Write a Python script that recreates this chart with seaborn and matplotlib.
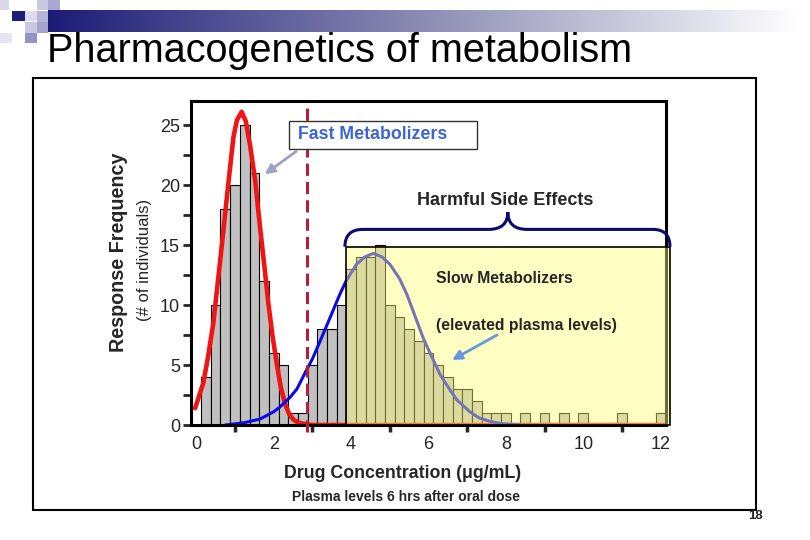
import numpy as np
import pandas as pd
import matplotlib
matplotlib.use("Agg")
import matplotlib.pyplot as plt
import seaborn as sns
from matplotlib.patches import Rectangle, PathPatch
from matplotlib.path import Path
from matplotlib.colors import LinearSegmentedColormap

# histogram: drug concentration bin centres (ug/mL) and number of individuals
bin_centers = [0.25, 0.5, 0.75, 1.0, 1.25, 1.5, 1.75, 2.0, 2.25, 2.5, 2.75, 3.0,
               3.25, 3.5, 3.75, 4.0, 4.25, 4.5, 4.75, 5.0, 5.25, 5.5, 5.75, 6.0,
               6.25, 6.5, 6.75, 7.0, 7.25, 7.5, 7.75, 8.0, 8.25, 8.5, 8.75, 9.0,
               9.25, 9.5, 9.75, 10.0, 10.25, 10.5, 10.75, 11.0, 11.25, 11.5, 11.75, 12.0]
counts = [4, 10, 18, 20, 25, 21, 12, 6, 5, 1, 1, 5,
          8, 8, 10, 13, 14, 14, 15, 10, 9, 8, 7, 6,
          5, 4, 3, 3, 2, 1, 1, 1, 0, 1, 0, 1,
          0, 1, 0, 1, 0, 0, 0, 1, 0, 0, 0, 1]

# fitted curve for the fast metabolizers (red)
fast_x = [-0.03, 0.18, 0.3, 0.44, 0.58, 0.7, 0.82, 0.96, 1.05, 1.17, 1.28, 1.39,
          1.52, 1.65, 1.76, 1.86, 1.97, 2.08, 2.18, 2.29, 2.4, 2.51, 2.63, 2.76,
          3.0, 4.0, 6.0, 8.0, 10.0, 12.1]
fast_y = [1.4, 3.5, 5.6, 8.5, 12.6, 16.2, 19.9, 24.0, 25.4, 26.1, 25.3, 23.3,
          20.4, 16.4, 13.2, 10.2, 7.4, 5.1, 3.2, 1.8, 0.9, 0.45, 0.2, 0.1,
          0.0, 0.0, 0.0, 0.0, 0.0, 0.0]

# fitted curve for the slow metabolizers (blue)
slow_x = [0.75, 1.25, 1.65, 2.0, 2.16, 2.42, 2.6, 2.85, 3.0, 3.28, 3.45, 3.71,
          3.87, 4.14, 4.35, 4.57, 4.8, 5.0, 5.25, 5.44, 5.66, 5.87, 6.04, 6.3,
          6.56, 6.73, 7.07, 7.3, 7.59, 7.9, 8.4]
slow_y = [0.0, 0.2, 0.5, 1.1, 1.5, 2.3, 3.0, 4.6, 5.5, 7.6, 8.9, 10.9,
          12.0, 13.4, 14.0, 14.3, 14.0, 13.4, 12.2, 10.9, 9.0, 7.2, 6.0, 4.2,
          2.9, 2.1, 1.1, 0.6, 0.3, 0.1, 0.0]

x_ticks = [0, 2, 4, 6, 8, 10, 12]
x_minor = [1, 3, 5, 7, 9, 11]
y_ticks = [0, 5, 10, 15, 20, 25]
y_minor = [2.5, 7.5, 12.5, 17.5, 22.5]

threshold = 2.86  # dashed cut-off between fast and slow

sns.set_theme(style="ticks")
plt.rcParams['font.family'] = ['Liberation Sans', 'DejaVu Sans']

W, H = 810, 540
fig = plt.figure(figsize=(8.1, 5.4), dpi=100)


def fp(px, py):
    # pixel (from top-left) -> figure fraction
    return px / W, 1 - py / H


# slide decoration: gradient band and little squares
band = fig.add_axes([48 / W, 1 - 32 / H, 752 / W, 22 / H])
cmap = LinearSegmentedColormap.from_list("band", ["#1c1c78", "#8c8cb4", "#ffffff"])
band.imshow(np.linspace(0, 1, 256)[None, :], aspect="auto", cmap=cmap)
band.axis("off")
squares = [(0, 0, 9, 10, "#d8d8ea"), (37, 0, 11, 10, "#c8c8e0"), (48, 0, 12, 10, "#a8a8d0"),
           (12, 11, 13, 10, "#1e1e7a"), (25, 11, 12, 10, "#dcdcee"), (37, 11, 11, 11, "#b4b4d8"),
           (25, 22, 12, 11, "#c8c8e2"), (37, 22, 11, 11, "#a4a4cc"),
           (0, 33, 12, 10, "#e4e4f2"), (25, 33, 12, 10, "#9494c4")]
for sx, sy, sw, sh, c in squares:
    x0, y0 = fp(sx, sy + sh)
    fig.add_artist(Rectangle((x0, y0), sw / W, sh / H, transform=fig.transFigure,
                             facecolor=c, edgecolor="none"))

fig.text(*fp(47, 62), "Pharmacogenetics of metabolism", fontsize=28.5,
         va="baseline", ha="left", color="black")

# outer frame
x0, y0 = fp(33, 510)
fig.add_artist(Rectangle((x0, y0), (756 - 33) / W, (510 - 78) / H, transform=fig.transFigure,
                         fill=False, edgecolor="black", lw=1.5))
fig.text(*fp(755, 516), "18", fontsize=9.5, fontweight="bold", ha="center", va="center")

ax = fig.add_axes([191 / W, 115 / H, 475 / W, 324 / H])

hist_df = pd.DataFrame({"conc": bin_centers, "n": counts})
edges = [c - 0.125 for c in bin_centers] + [bin_centers[-1] + 0.125]
sns.histplot(data=hist_df, x="conc", weights="n", bins=edges, color="#c0c0c0",
             edgecolor="black", linewidth=0.8, alpha=1, ax=ax, zorder=1)

sns.lineplot(x=fast_x, y=fast_y, color="#f01414", lw=3.3, ax=ax, zorder=2)
sns.lineplot(x=slow_x, y=slow_y, color="#0a0ae6", lw=2.2, ax=ax, zorder=2)

ax.plot([threshold, threshold], [-0.6, 26.8], color="#b0203c", lw=2.2,
        dashes=(4, 2), clip_on=False, zorder=4)

# harmful region highlight (semi transparent, sits on top)
ax.add_patch(Rectangle((3.875, 0), 12.24 - 3.875, 14.83,
                       facecolor=(1, 1, 120 / 255, 0.44), edgecolor="black",
                       lw=1.2, zorder=5, clip_on=False))

# curly brace
verts = [(3.84, 14.85), (3.84, 16.3), (4.3, 16.3), (7.55, 16.3),
         (8.05, 16.3), (8.05, 17.75), (8.05, 16.3), (8.55, 16.3),
         (11.8, 16.3), (12.24, 16.3), (12.24, 14.85)]
codes = [Path.MOVETO, Path.CURVE3, Path.CURVE3, Path.LINETO,
         Path.CURVE3, Path.CURVE3, Path.CURVE3, Path.CURVE3,
         Path.LINETO, Path.CURVE3, Path.CURVE3]
ax.add_patch(PathPatch(Path(verts, codes), facecolor="none", edgecolor="#0a0a6e",
                       lw=2.2, zorder=6, clip_on=False))

# fast metabolizers label box
ax.add_patch(Rectangle((2.395, 23.0), 7.253 - 2.395, 2.33, facecolor="white",
                       edgecolor="#333333", lw=1, zorder=6, clip_on=False))
ax.text(2.63, 24.17, "Fast Metabolizers", color="#3c64d2", fontsize=12.8,
        fontweight="bold", ha="left", va="center", zorder=7)
ax.annotate("", xy=(1.77, 20.9), xytext=(2.58, 22.8), zorder=7,
            arrowprops=dict(arrowstyle="-|>", color="#a0a0c8", lw=2,
                            mutation_scale=14, shrinkA=0, shrinkB=0))

ax.text(7.98, 18.75, "Harmful Side Effects", fontsize=13, fontweight="bold",
        ha="center", va="center", zorder=7)
ax.text(6.19, 12.25, "Slow Metabolizers", fontsize=11.3, fontweight="bold",
        ha="left", va="center", zorder=7)
ax.text(6.19, 8.33, "(elevated plasma levels)", fontsize=11.3, fontweight="bold",
        ha="left", va="center", zorder=7)
ax.annotate("", xy=(6.61, 5.42), xytext=(7.77, 7.5), zorder=7,
            arrowprops=dict(arrowstyle="-|>", color="#6a96e0", lw=2,
                            mutation_scale=14, shrinkA=0, shrinkB=0))

ax.set_xlim(-0.137, 12.137)
ax.set_ylim(0, 27)
ax.set_xticks(x_ticks)
ax.set_xticklabels([str(t) for t in x_ticks])
ax.set_xticks(x_minor, minor=True)
ax.set_yticks(y_ticks)
ax.set_yticklabels([str(t) for t in y_ticks])
ax.set_yticks(y_minor, minor=True)
ax.tick_params(axis="x", which="major", length=0, pad=8, labelsize=13)
ax.tick_params(axis="x", which="minor", length=5, width=2.5, direction="out")
ax.tick_params(axis="y", which="both", length=6, width=2, direction="out",
               labelsize=13, pad=2)
ax.set_xlabel("")
ax.set_ylabel("")
for sp in ax.spines.values():
    sp.set_linewidth(2.2)
    sp.set_color("black")
ax.set_facecolor("white")

fig.text(*fp(118, 252), "Response Frequency", rotation=90, fontsize=14.2,
         fontweight="bold", ha="center", va="center")
fig.text(*fp(145, 260), "(# of individuals)", rotation=90, fontsize=12,
         ha="center", va="center")
fig.text(*fp(403, 473), "Drug Concentration (\u03bcg/mL)", fontsize=12.8,
         fontweight="bold", ha="center", va="center")
fig.text(*fp(406, 497), "Plasma levels 6 hrs after oral dose", fontsize=10,
         fontweight="bold", ha="center", va="center")

fig.savefig("out.png", dpi=100, facecolor="white")
